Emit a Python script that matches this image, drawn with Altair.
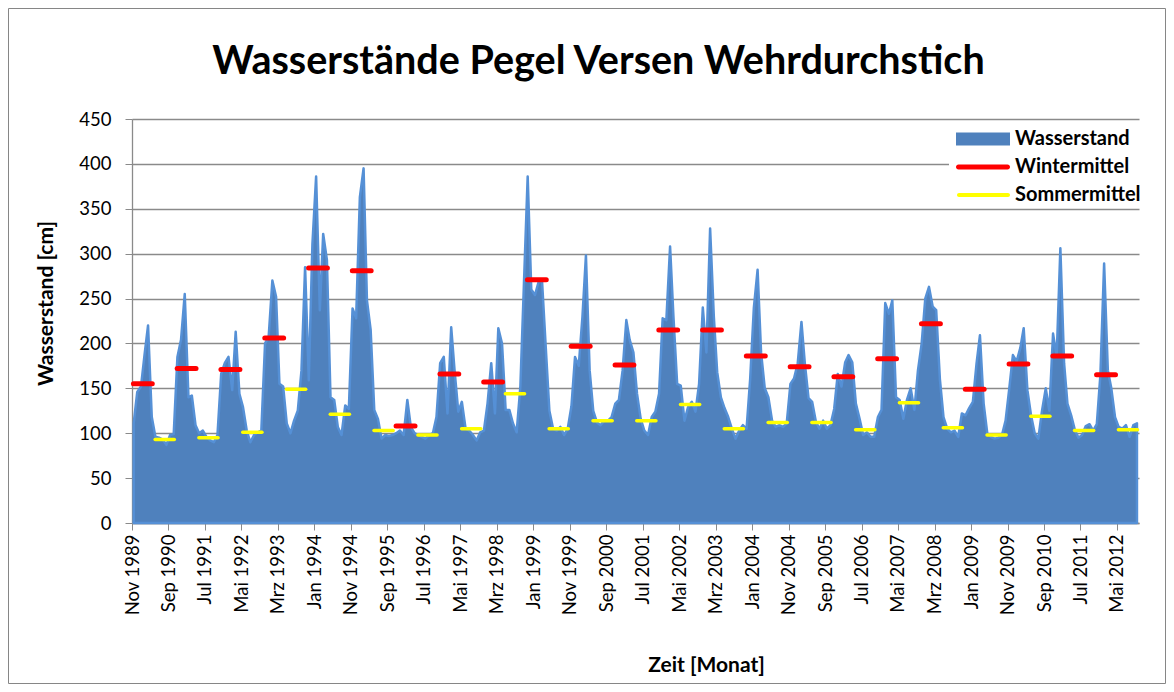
import altair as alt
import pandas as pd

# ---------------------------------------------------------------- data
series_names = ["Wasserstand", "Wintermittel", "Sommermittel"]
series_colors = ["#4f81bd", "#ff0000", "#ffff00"]

start_year = 1989
start_month = 11          # first value: Nov 1989 (hydrological years Nov..Oct)

# monthly water levels [cm]; one line per hydrological year (Nov ... Oct)
wasserstand = [
    111, 146, 152, 189, 220, 118,  96,  95,  93,  87,  98,  99,   # 1990
    185, 204, 255, 140, 142, 109, 100, 103,  96,  92,  90,  98,   # 1991
    166, 178, 185, 148, 213, 144, 129, 103,  90,  98, 101, 103,   # 1992
    200, 207, 270, 252, 155, 152, 111, 100, 114, 125, 170, 285,   # 1993
    159, 310, 386, 237, 322, 293, 140, 137, 107,  98, 131, 127,   # 1994
    239, 228, 363, 395, 248, 215, 126, 116,  94,  98,  97,  98,   # 1995
    100, 103,  98, 137, 107, 100,  98,  96,  94,  98, 100, 118,   # 1996
    178, 185, 122, 218, 170, 124, 135, 105, 103,  98,  92, 101,   # 1997
    103, 133, 178, 122, 217, 200, 126, 126, 111, 101, 152, 267,   # 1998
    386, 260, 254, 269, 269, 195, 125, 105, 103, 107,  98, 105,   # 1999
    130, 185, 175, 230, 298, 170, 125, 112, 109, 114, 114, 118,   # 2000
    133, 137, 170, 226, 204, 190, 144, 116, 103,  98, 118, 124,   # 2001
    144, 228, 226, 308, 230, 155, 153, 114, 129, 135, 124, 155,   # 2002
    240, 190, 328, 230, 168, 140, 128, 118, 105,  94, 103, 109,   # 2003
    105, 160, 240, 282, 190, 150, 140, 114, 107, 109, 107, 111,   # 2004
    155, 161, 178, 224, 178, 139, 135, 113, 105, 114, 105, 109,   # 2005
    127, 166, 152, 179, 187, 179, 133, 116,  98, 101,  96,  96,   # 2006
    118, 126, 245, 233, 248, 140, 137, 116, 137, 150, 126, 170,   # 2007
    200, 250, 263, 241, 237, 160, 118, 105, 101, 103,  96, 122,   # 2008
    120, 128, 135, 178, 209, 133, 100,  96,  94,  95,  98, 114,   # 2009
    150, 187, 180, 195, 217, 148, 120, 100,  94, 125, 150, 125,   # 2010
    211, 185, 306, 178, 133, 120, 104,  95,  98, 108, 110, 103,   # 2011
    110, 165, 289, 170, 150, 118, 107, 105, 109,  96, 109, 111,   # 2012
]

hydro_years = list(range(1990, 2013))
wintermittel = [155, 172, 171, 206, 284, 281, 108, 166, 157, 271, 197, 176,
                215, 215, 186, 174, 163, 183, 222, 149, 177, 186, 165]
sommermittel = [93, 95, 101, 149, 121, 103, 98, 105, 144, 105, 114, 114,
                132, 105, 112, 112, 104, 134, 106, 98, 119, 103, 104]

tick_labels = ["Nov 1989", "Sep 1990", "Jul 1991", "Mai 1992", "Mrz 1993",
               "Jan 1994", "Nov 1994", "Sep 1995", "Jul 1996", "Mai 1997",
               "Mrz 1998", "Jan 1999", "Nov 1999", "Sep 2000", "Jul 2001",
               "Mai 2002", "Mrz 2003", "Jan 2004", "Nov 2004", "Sep 2005",
               "Jul 2006", "Mai 2007", "Mrz 2008", "Jan 2009", "Nov 2009",
               "Sep 2010", "Jul 2011", "Mai 2012"]
month_abbr = ["Jan", "Feb", "Mrz", "Apr", "Mai", "Jun", "Jul", "Aug",
              "Sep", "Okt", "Nov", "Dez"]

# ---------------------------------------------------------------- tables
rows = []
for i, v in enumerate(wasserstand):
    mi = start_month - 1 + i
    rows.append({"datum": f"{start_year + mi // 12:04d}-{mi % 12 + 1:02d}-15", "wert": v})
df_ws = pd.DataFrame(rows)

inset = pd.Timedelta(days=12)
def season_rows(values, m0, m1, y_off0, y_off1):
    out = []
    for y, v in zip(hydro_years, values):
        a = pd.Timestamp(year=y + y_off0, month=m0, day=1) + inset
        b = pd.Timestamp(year=y + y_off1, month=m1, day=1) - inset
        out.append({"datum": a.strftime("%Y-%m-%d"), "ende": b.strftime("%Y-%m-%d"), "wert": v})
    return pd.DataFrame(out)

df_w = season_rows(wintermittel, 11, 5, -1, 0)
df_s = season_rows(sommermittel, 5, 11, 0, 0)
df_leg = pd.DataFrame({"reihe": series_names})

tick_values = [alt.DateTime(year=int(t.split()[1]), month=month_abbr.index(t.split()[0]) + 1,
                            date=1, utc=True) for t in tick_labels]

# ---------------------------------------------------------------- encodings
FONT = "Lato"
GRID = "#8a8a8a"

x_scale = alt.Scale(type="utc", domain=[alt.DateTime(year=1989, month=11, date=1, utc=True),
                                        alt.DateTime(year=2012, month=11, date=1, utc=True)])
x_axis = alt.Axis(values=tick_values, title="Zeit [Monat]", grid=False,
                  labelExpr="['" + "','".join(month_abbr) + "'][utcmonth(datum.value)] + ' ' + utcyear(datum.value)",
                  labelAngle=270, labelAlign="right", labelBaseline="middle",
                  labelFontSize=18.5, labelPadding=4, labelColor="#000000",
                  tickSize=7, tickColor=GRID, domainColor=GRID, domainWidth=1.3,
                  titleFontSize=21, titleFontWeight="bold", titleColor="#000000",
                  titleX=574, titleY=142, titleBaseline="middle", titleAnchor="middle",
                  labelOverlap=False, labelFlush=False)
y_scale = alt.Scale(domain=[0, 450], nice=False)
y_axis = alt.Axis(values=list(range(0, 451, 50)), title="Wasserstand [cm]", grid=True,
                  gridColor=GRID, gridWidth=1.3, labelFontSize=18.5, labelPadding=14,
                  labelColor="#000000", tickSize=7, tickColor=GRID, domainColor=GRID,
                  domainWidth=1.3, titleFontSize=21, titleFontWeight="bold",
                  titleColor="#000000", titleX=-86, titleY=184, titleBaseline="middle",
                  titleAngle=270)

X = alt.X("datum:T", scale=x_scale, axis=x_axis)
Y = alt.Y("wert:Q", scale=y_scale, axis=y_axis)

area = alt.Chart(df_ws).mark_area(fill="#4f81bd", stroke="#5590d6", strokeWidth=2.5,
                                  strokeJoin="round").encode(x=X, y=Y)
winter = alt.Chart(df_w).mark_rule(color="#ff0000", strokeWidth=5, strokeCap="round").encode(
    x=X, x2="ende:T", y=Y)
summer = alt.Chart(df_s).mark_rule(color="#ffff00", strokeWidth=3.5, strokeCap="round").encode(
    x=X, x2="ende:T", y=Y)

path_rect = "M-1,-1.3H9.8V1.3H-1Z"
path_red = "M-0.5,-0.5H9.3A0.5,0.5 0 0 1 9.3,0.5H-0.5A0.5,0.5 0 0 1 -0.5,-0.5Z"
path_yel = "M-0.4,-0.4H9.4A0.4,0.4 0 0 1 9.4,0.4H-0.4A0.4,0.4 0 0 1 -0.4,-0.4Z"

legend = alt.Legend(title=None, orient="none", legendX=817, legendY=8, symbolSize=100,
                    symbolStrokeWidth=0, symbolOpacity=1, labelFont=FONT, labelFontSize=20,
                    labelFontWeight="bold", labelColor="#000000", labelOffset=44,
                    rowPadding=8, fillColor="#ffffff", padding=2)
# invisible helper marks (size 0) that only carry the legend
proxy = alt.Chart(df_leg).mark_point(filled=True, size=0, opacity=1).encode(
    color=alt.Color("reihe:N", scale=alt.Scale(domain=series_names, range=series_colors),
                    legend=legend),
    shape=alt.Shape("reihe:N", scale=alt.Scale(domain=series_names,
                                               range=[path_rect, path_red, path_yel]),
                    legend=legend),
    x=alt.value(900), y=alt.value(60),
)

frame = alt.Chart(pd.DataFrame({"k": [0]})).mark_rect(
    filled=False, stroke="#868686", strokeWidth=1, clip=False).encode(
    x=alt.value(-123.5), x2=alt.value(1033.5), y=alt.value(-110.5), y2=alt.value(564.5))

chart = alt.layer(area, winter, summer, proxy, frame).properties(
    width=1007, height=404,
    padding={"left": 124, "top": 111, "right": 27, "bottom": 161},
    autosize=alt.AutoSizeParams(type="none"),
    title=alt.Title("Wasserstände Pegel Versen Wehrdurchstich", font=FONT, fontSize=39.5,
                    fontWeight="bold", color="#000000", anchor="middle", frame="group",
                    baseline="alphabetic", dx=-37, dy=105, offset=0),
).configure(font=FONT).configure_view(stroke=None).configure_axis(
    labelFont=FONT, titleFont=FONT)

chart.save("out.html", embed_options={"renderer": "svg", "actions": False})
